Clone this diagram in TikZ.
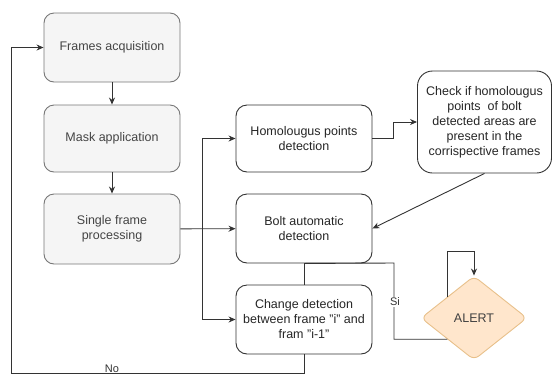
\documentclass[tikz,border=0pt]{standalone}
\usepackage{fontspec}
\setmainfont{Liberation Sans}
\usetikzlibrary{shapes.geometric,arrows.meta}
\definecolor{gfill}{HTML}{F5F5F5}
\definecolor{gdraw}{HTML}{777777}
\definecolor{gtext}{HTML}{444444}
\definecolor{afill}{HTML}{FFE6CC}
\definecolor{adraw}{HTML}{E8C08A}
\definecolor{ln}{HTML}{333333}
\tikzset{
  every node/.style={font=\fontsize{12.5}{15}\selectfont},
  greybox/.style={draw=gdraw, fill=gfill, text=gtext, rounded corners=10pt, line width=0.9pt,
    minimum width=136pt, inner sep=2pt, align=center},
  whitebox/.style={draw=ln, fill=white, text=black!85, rounded corners=11pt, line width=0.9pt,
    minimum width=136pt, inner sep=1pt, align=center},
  conn/.style={draw=ln, line width=0.9pt},
  arr/.style={conn, -{Stealth[length=7pt,width=6pt]}},
  lbl/.style={fill=white, inner sep=1pt, text=black!80, font=\fontsize{11}{13}\selectfont},
}
\begin{document}
\begin{tikzpicture}[x=1pt,y=-1pt]
\useasboundingbox (0,0) rectangle (552,376);
% left column
\node[greybox, minimum height=69pt] (fa) at (112,47.5) {Frames acquisition};
\node[greybox, minimum height=67pt] (ma) at (112,138.5) {Mask application};
\node[greybox, minimum height=70pt] (sf) at (112,229) {Single frame\\processing};
% middle column
\node[whitebox, minimum height=67pt] (hom) at (304,138.5) {Homolougus points\\detection};
\node[whitebox, minimum height=69pt] (bolt) at (304,228.5) {Bolt automatic\\detection};
\node[whitebox, minimum height=69pt] (chg) at (304,319.5) {Change detection\\between frame "i" and\\fram "i-1"};
% right
\node[whitebox, minimum width=134pt, minimum height=102pt, rounded corners=15pt] (chk) at (484.5,122) {Check if homolougus\\points~ of bolt\\detected areas are\\present in the\\corrispective frames};
\node[diamond, draw=adraw, fill=afill, line width=0.9pt, minimum width=106pt, minimum height=84pt,
  inner sep=0pt, rounded corners=6pt, text=black!75] (al) at (474,318) {ALERT};
% helper coordinates
\coordinate (jt) at (202,138.5);
\coordinate (jb) at (202,319.5);
\coordinate (sitop) at (394,263);
\coordinate (loopl) at (11,373);
% connectors
\draw[arr] (fa) -- (ma);
\draw[arr] (ma) -- (sf);
\draw[arr] (sf) -- (bolt);
\draw[conn] (jt) -- (jb);
\draw[arr] (jt) -- (hom);
\draw[arr] (jb) -- (chg);
\draw[arr] (hom.east) -- ++(21,0) |- (chk.west);
\draw[arr] (chk.south) -- (bolt.east);
\draw[conn] (bolt.south) -- (chg.north);
\draw[conn] (bolt.south) -- (sitop) -- (sitop |- al.south west) -- (al.south west);
\node[lbl] (si) at (395,302) {Si};
\draw[arr] (al.north west) -- ++(0,-45) -| (al.north);
\draw[arr] (chg.south) |- (loopl) |- (fa.west);
\node[lbl, fill=none, anchor=south] (no) at (112,374) {No};
\end{tikzpicture}
\end{document}
